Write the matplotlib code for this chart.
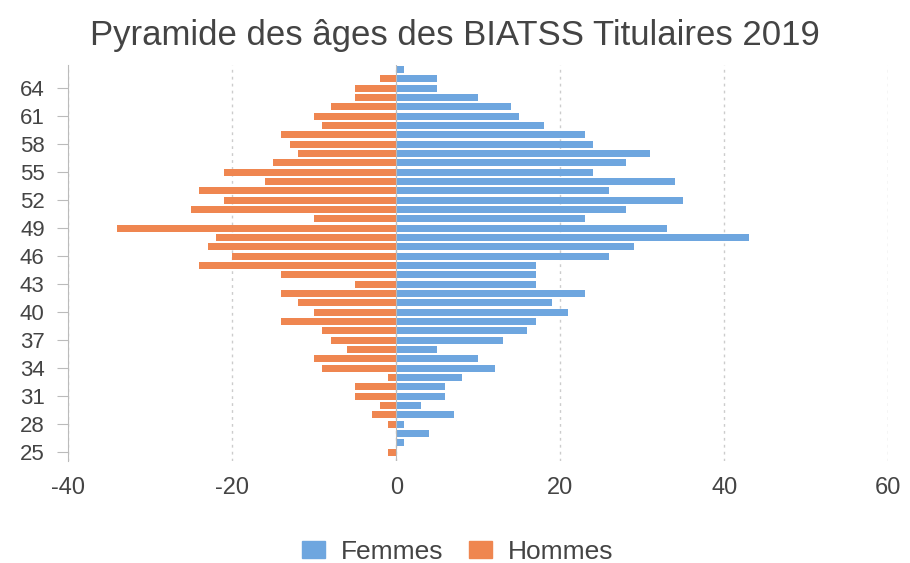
import matplotlib.pyplot as plt
from matplotlib.patches import Patch

plt.rcParams['font.family'] = ['Liberation Sans', 'DejaVu Sans']
plt.rcParams['axes.unicode_minus'] = False

ages = list(range(25, 67))
femmes = [0, 1, 4, 1, 7, 3, 6, 6, 8, 12, 10, 5, 13, 16, 17, 21, 19, 23, 17, 17,
          17, 26, 29, 43, 33, 23, 28, 35, 26, 34, 24, 28, 31, 24, 23, 18, 15, 14,
          10, 5, 5, 1]
hommes = [1, 0, 0, 1, 3, 2, 5, 5, 1, 9, 10, 6, 8, 9, 14, 10, 12, 14, 5, 14,
          24, 20, 23, 22, 34, 10, 25, 21, 24, 16, 21, 15, 12, 13, 14, 9, 10, 8,
          5, 5, 2, 0]

blue = '#6ea6df'
orange = '#ef8650'
txt = '#444444'

fig = plt.figure(figsize=(9.1, 5.63), dpi=100)
ax = fig.add_axes([0.075, 0.182, 0.901, 0.703])

ax.barh(ages, femmes, height=0.74, color=blue, zorder=3)
ax.barh(ages, [-h for h in hommes], height=0.74, color=orange, zorder=3)
ax.axvline(0, color='#bbbbbb', lw=0.8, zorder=4)

ax.set_xlim(-40, 60)
ax.set_ylim(24.1, 66.5)
ax.set_xticks([-40, -20, 0, 20, 40, 60])
ax.set_yticks(list(range(25, 65, 3)))
ax.grid(axis='x', linestyle=(0, (2, 3)), color='#cccccc', lw=1, zorder=0)

for s in ['top', 'right', 'bottom']:
    ax.spines[s].set_visible(False)
ax.spines['left'].set_color('#bbbbbb')
ax.tick_params(axis='x', length=0, labelsize=17, colors=txt, pad=12)
ax.tick_params(axis='y', length=8, color='#bbbbbb', labelsize=16, colors=txt, pad=9)

fig.suptitle('Pyramide des âges des BIATSS Titulaires 2019', fontsize=25,
             color='#444444', y=0.967)

handles = [Patch(color=blue, label='Femmes'), Patch(color=orange, label='Hommes')]
fig.legend(handles=handles, loc='center', bbox_to_anchor=(0.503, 0.02), ncol=2,
           frameon=False, fontsize=19, handlelength=0.85, handleheight=0.6,
           columnspacing=1.0, handletextpad=0.6, labelcolor=txt)

fig.savefig('out.png', dpi=100)
